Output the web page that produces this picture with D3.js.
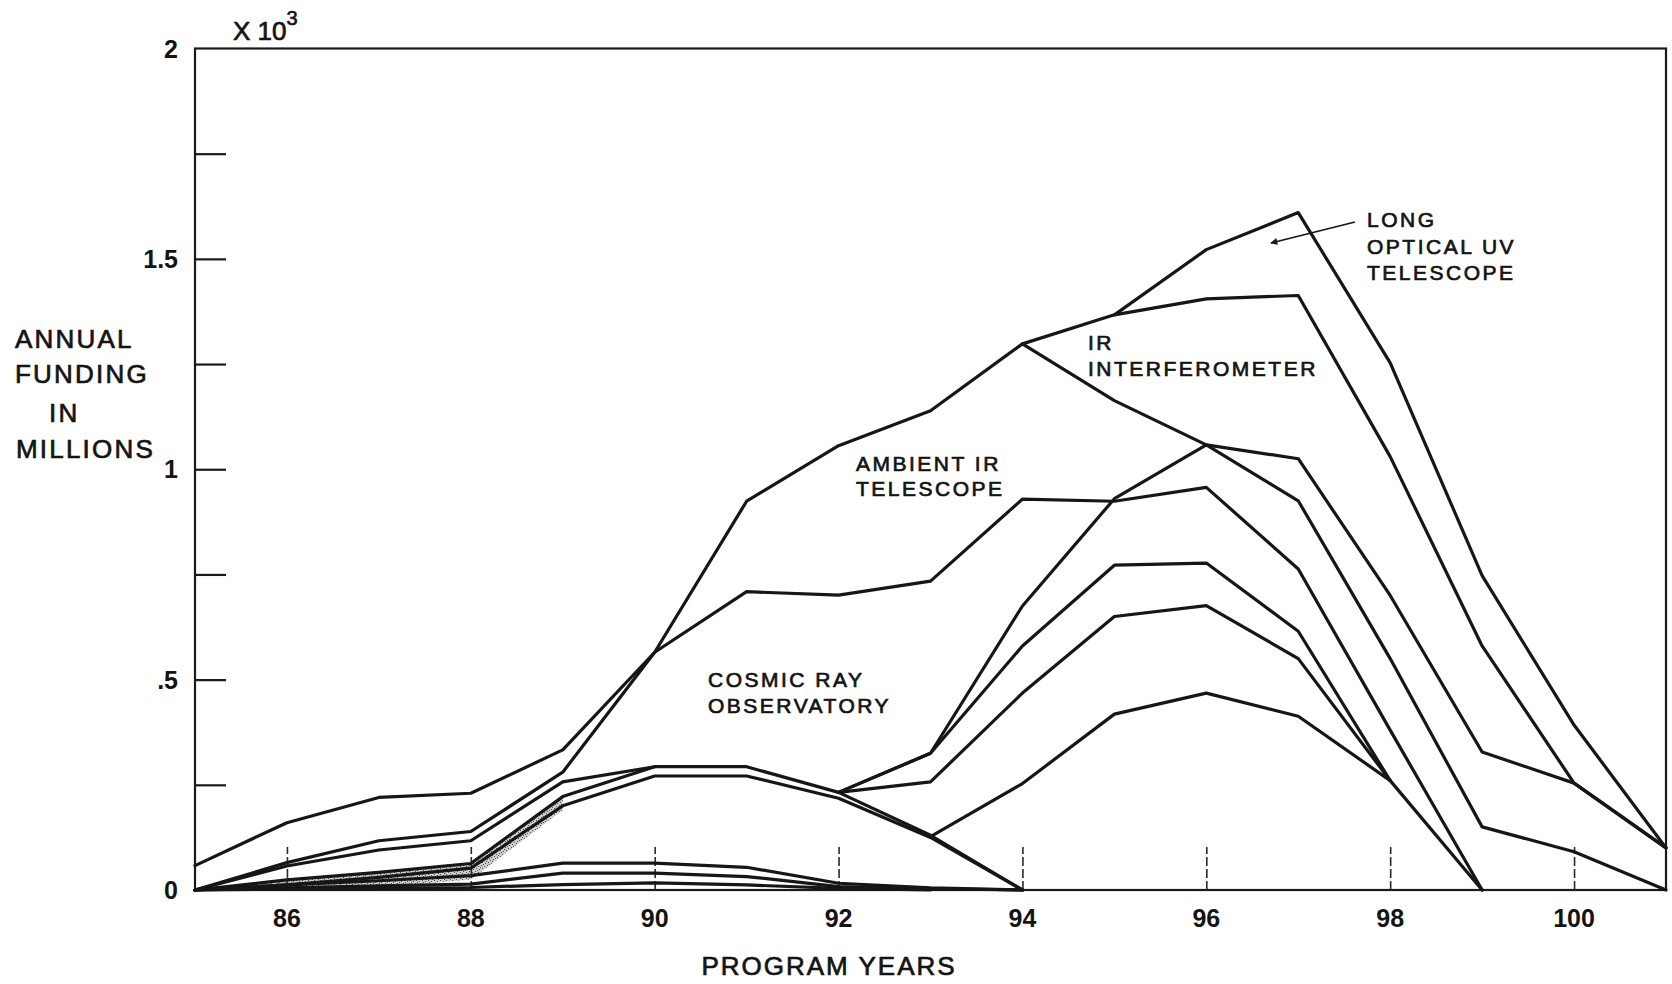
<!DOCTYPE html>
<html>
<head>
<meta charset="utf-8">
<script src="https://cdn.jsdelivr.net/npm/d3@7/dist/d3.min.js"></script>
<style>
  body { margin: 0; background: #fff; }
  svg text { font-family: "Liberation Sans", Arial, Helvetica, sans-serif; fill: #141414; }
  svg text.heavy { stroke: #141414; stroke-width: 0.7px; }
</style>
</head>
<body>
<svg id="chart" width="1672" height="984"></svg>
<script>
// Program years on the x axis (19xx)
const years = [85, 86, 87, 88, 89, 90, 91, 92, 93, 94, 95, 96, 97, 98, 99, 100, 101];
const xTickYears = [86, 88, 90, 92, 94, 96, 98, 100];
const xTickLabels = ["86", "88", "90", "92", "94", "96", "98", "100"];
const yTickValues = [0, 0.25, 0.5, 0.75, 1, 1.25, 1.5, 1.75, 2];
const yLabelValues = [0, 0.5, 1, 1.5, 2];
const yLabelTexts = ["0", ".5", "1", "1.5", "2"];

// Cumulative funding boundaries, thousands of millions, one value per program year (null = not drawn)
const _ = null;
const totalFunding      = [0.058, 0.16, 0.22, 0.23, 0.333, 0.565, 0.924, 1.056, 1.139, 1.298, 1.367, 1.522, 1.61, 1.253, 0.747, 0.392, 0.10];
const longOpticalBase   = [_, _, _, _, _, _, _, _, _, _, 1.367, 1.405, 1.413, 1.03, 0.58, 0.254, 0.10];
const interferometerBase= [_, _, _, _, _, _, _, _, _, 1.298, 1.163, 1.058, 1.025, 0.70, 0.328, 0.254, 0.10];
const ambientBase       = [0, 0.065, 0.117, 0.139, 0.28, 0.565, 0.709, 0.701, 0.734, 0.929, 0.924, 0.957, 0.763, 0.38, 0, _, _];
const humpA             = [_, _, _, _, _, _, _, 0.232, 0.325, 0.675, 0.93, 1.058, 0.925, 0.55, 0.15, 0.091, 0];
const humpB             = [_, _, _, _, _, _, _, 0.232, 0.325, 0.58, 0.772, 0.777, 0.615, 0.26, 0, _, _];
const humpC             = [_, _, _, _, _, _, _, 0.232, 0.257, 0.468, 0.65, 0.676, 0.55, 0.26, _, _, _];
const humpD             = [_, _, _, _, _, _, _, _, 0.127, 0.253, 0.418, 0.468, 0.413, 0.26, _, _, _];
const cosmicTop         = [0, 0.057, 0.095, 0.117, 0.257, 0.293, 0.293, 0.232, 0.13, 0, _, _, _, _, _, _, _];
const cosmicMid         = [0, 0.024, 0.042, 0.063, 0.222, 0.293, _, _, _, _, _, _, _, _, _, _, _];
const cosmicBase        = [0, 0.012, 0.03, 0.052, 0.2, 0.271, 0.271, 0.218, 0.125, 0, _, _, _, _, _, _, _];
const smallA            = [0, 0.012, 0.022, 0.034, 0.064, 0.064, 0.054, 0.016, 0.005, 0, _, _, _, _, _, _, _];
const smallB            = [0, 0.005, 0.01, 0.014, 0.04, 0.04, 0.032, 0.008, 0.003, 0, _, _, _, _, _, _, _];
const smallC            = [0, 0.002, 0.004, 0.006, 0.013, 0.017, 0.012, 0.004, 0, _, _, _, _, _, _, _, _];

const boundaryLines = [totalFunding, longOpticalBase, interferometerBase, ambientBase,
  humpA, humpB, humpC, humpD, cosmicTop, cosmicMid, cosmicBase, smallA, smallB, smallC];

// Stippled band of the early small programs
const stippleTop    = [0, 0.026, 0.045, 0.066, 0.222];
const stippleBottom = [0, 0.003, 0.006, 0.025, 0.19];

const programLabels = [
  { lines: ["LONG", "OPTICAL UV", "TELESCOPE"], x: 1367, y: 227, dy: 26.5 },
  { lines: ["IR", "INTERFEROMETER"], x: 1088, y: 350, dy: 26 },
  { lines: ["AMBIENT IR", "TELESCOPE"], x: 856, y: 471, dy: 25 },
  { lines: ["COSMIC RAY", "OBSERVATORY"], x: 708, y: 687, dy: 26 }
];

const svg = d3.select("#chart");
const x = d3.scaleLinear().domain([85, 101]).range([195, 1666]);
const y = d3.scaleLinear().domain([0, 2]).range([890, 48.5]);

// stipple pattern
const defs = svg.append("defs");
const pat = defs.append("pattern").attr("id", "stipple").attr("patternUnits", "userSpaceOnUse")
  .attr("width", 6).attr("height", 6);
pat.append("rect").attr("width", 6).attr("height", 6).attr("fill", "#c8c8c8");
[[1, 1], [4, 2], [2, 4], [5, 5], [0, 3], [3, 0]].forEach(([a, b]) =>
  pat.append("rect").attr("x", a).attr("y", b).attr("width", 1).attr("height", 1).attr("fill", "#3a3a3a"));

const stippleArea = d3.area()
  .x((d, i) => x(years[i]))
  .y0((d, i) => y(stippleBottom[i]))
  .y1(d => y(d));
svg.append("path").datum(stippleTop).attr("d", stippleArea).attr("fill", "url(#stipple)").attr("opacity", 0.9);

// plot frame
svg.append("rect")
  .attr("x", x(85)).attr("y", y(2))
  .attr("width", x(101) - x(85)).attr("height", y(0) - y(2))
  .attr("fill", "none").attr("stroke", "#1a1a1a").attr("stroke-width", 2.2);

// y axis ticks (inside) and labels
const yAxis = d3.axisRight(y).tickValues(yTickValues).tickSize(31).tickFormat("");
const gy = svg.append("g").attr("transform", `translate(${x(85)},0)`).call(yAxis);
gy.select(".domain").remove();
gy.selectAll(".tick line").attr("stroke", "#1a1a1a").attr("stroke-width", 2.2);
gy.selectAll(".tick").filter(d => d === 0 || d === 2).remove();

svg.append("g").selectAll("text").data(yLabelValues).join("text")
  .attr("x", 178).attr("y", d => y(d) + 9)
  .attr("text-anchor", "end").attr("font-size", 25).attr("font-weight", "bold")
  .text((d, i) => yLabelTexts[i]);

// x axis ticks (dashed, rising from the baseline) and labels
const xAxis = d3.axisTop(x).tickValues(xTickYears).tickSize(43).tickFormat("");
const gx = svg.append("g").attr("transform", `translate(0,${y(0)})`).call(xAxis);
gx.select(".domain").remove();
gx.selectAll(".tick line").attr("stroke", "#2a2a2a").attr("stroke-width", 1.6).attr("stroke-dasharray", "9 3");

svg.append("g").selectAll("text").data(xTickYears).join("text")
  .attr("x", d => x(d)).attr("y", 927)
  .attr("text-anchor", "middle").attr("font-size", 25).attr("font-weight", "bold")
  .text((d, i) => xTickLabels[i]);

// boundary lines
const line = d3.line()
  .defined(d => d !== null)
  .x((d, i) => x(years[i]))
  .y(d => y(d));
svg.append("g").selectAll("path").data(boundaryLines).join("path")
  .attr("d", d => line(d))
  .attr("fill", "none").attr("stroke", "#161616").attr("stroke-width", 3.2)
  .attr("stroke-linejoin", "round").attr("stroke-linecap", "round");

// axis titles
const yTitle = [["ANNUAL", 15, 348], ["FUNDING", 15, 383], ["IN", 49, 422], ["MILLIONS", 16, 458]];
svg.append("g").selectAll("text").data(yTitle).join("text")
  .attr("class", "heavy")
  .attr("x", d => d[1]).attr("y", d => d[2])
  .attr("font-size", 26).attr("letter-spacing", 2.2)
  .text(d => d[0]);

svg.append("text").attr("class", "heavy").attr("x", 829).attr("y", 975).attr("text-anchor", "middle")
  .attr("font-size", 26).attr("letter-spacing", 2).text("PROGRAM YEARS");

const mult = svg.append("text").attr("class", "heavy").attr("x", 233).attr("y", 40).attr("font-size", 26);
mult.append("tspan").text("X 10");
mult.append("tspan").attr("dy", -15).attr("font-size", 20).text("3");

// program labels
programLabels.forEach(p => {
  svg.append("g").selectAll("text").data(p.lines).join("text")
    .attr("class", "heavy")
    .attr("x", p.x).attr("y", (d, i) => p.y + i * p.dy)
    .attr("font-size", 21).attr("letter-spacing", 2.5)
    .text(d => d);
});

// pointer to the Long Optical UV Telescope band
defs.append("marker").attr("id", "head").attr("viewBox", "0 0 10 10")
  .attr("refX", 9).attr("refY", 5).attr("markerWidth", 9).attr("markerHeight", 7)
  .attr("orient", "auto").attr("markerUnits", "userSpaceOnUse")
  .append("path").attr("d", "M0,0 L10,5 L0,10 Z").attr("fill", "#161616");
svg.append("line").attr("x1", 1355).attr("y1", 222).attr("x2", 1271).attr("y2", 243)
  .attr("stroke", "#161616").attr("stroke-width", 1.8).attr("marker-end", "url(#head)");
</script>
</body>
</html>
